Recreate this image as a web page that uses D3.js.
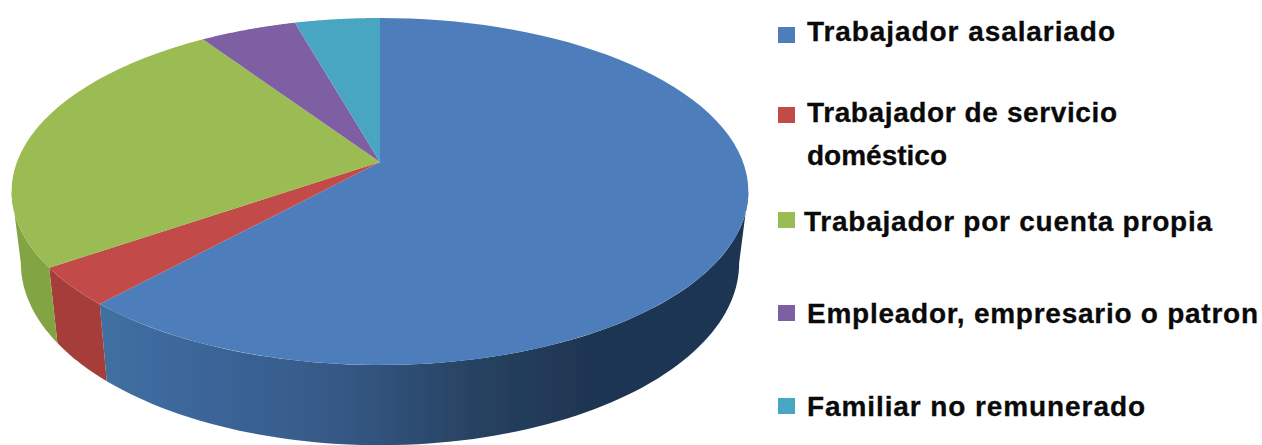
<!DOCTYPE html>
<html><head><meta charset="utf-8">
<script src="https://cdn.jsdelivr.net/npm/d3@7"></script>
<style>html,body{margin:0;padding:0;background:#fff;overflow:hidden}</style>
</head><body>
<svg id="c" width="1262" height="445"></svg>
<script>
const categories = ["Trabajador asalariado","Trabajador de servicio doméstico","Trabajador por cuenta propia","Empleador, empresario o patron","Familiar no remunerado"];
const values = [61.8,3.6,25.2,5.0,4.4];
const colors = ["#4d7ebb","#c24c4a","#9bbb52","#7f5fa3","#4aa6c3"];
const wallColors = ["#3c659a","#a53d3b","#83a443","#6a4f8a","#3d8aa3"];
const legendLines = [["Trabajador asalariado"],["Trabajador de servicio","doméstico"],["Trabajador por cuenta propia"],["Empleador, empresario o patron"],["Familiar no remunerado"]];
const legendBox = [35,115,220,313,406];
const legendBase = [[41],[122,165],[231],[323],[416]];
const legendX = [807,807,804,807,807];
const legendLen = [[308],[310,140],[408],[451],[338]];

const svg = d3.select("#c");
const defs = svg.append("defs");
defs.append("filter").attr("id","soft").attr("x","-2%").attr("y","-2%").attr("width","104%").attr("height","104%")
  .append("feGaussianBlur").attr("stdDeviation",0.7);
const grad = defs.append("linearGradient").attr("id","blueWall").attr("gradientUnits","userSpaceOnUse")
  .attr("x1",100).attr("x2",750).attr("y1",0).attr("y2",0);
[[0,"#41709f"],[0.08,"#3d6a9f"],[0.35,"#365a88"],[0.6,"#26405f"],[0.75,"#1f3552"],[1,"#1f3552"]]
  .forEach(s=>grad.append("stop").attr("offset",s[0]).attr("stop-color",s[1]));

const ax=380, ay=162, A=363, B=168.5, K=0.17;
function topPt(t){const d=1+K*Math.cos(t);return [ax+A*Math.sin(t)/d, ay-B*Math.cos(t)/d];}
function botPt(t){const p=topPt(t);return [ax+0.975*(p[0]-ax), p[1]+70+0.05*(p[1]-ay)];}
const pie = d3.pie().sort(null).value(d=>d)(values);
const line = d3.line();
const samples=(a,b)=>d3.range(0,81).map(i=>a+(b-a)*i/80);
const g = svg.append("g").attr("filter","url(#soft)");
const tangent=Math.acos(-K);
const visA=tangent, visB=2*Math.PI-tangent;
pie.forEach((s,i)=>{
  const a=Math.max(s.startAngle,visA), b=Math.min(s.endAngle,visB);
  if(b<=a) return;
  const ts=samples(a,b);
  const pts=ts.map(topPt).concat(ts.slice().reverse().map(botPt));
  g.append("path").attr("d",line(pts)+"Z")
    .attr("fill",i===0?"url(#blueWall)":wallColors[i]);
});
pie.forEach((s,i)=>{
  const pts=[[ax,ay]].concat(samples(s.startAngle,s.endAngle).map(topPt));
  g.append("path").attr("d",line(pts)+"Z").attr("fill",colors[i]);
});
const lg=svg.append("g");
categories.forEach((c,i)=>{
  lg.append("rect").attr("x",778).attr("y",legendBox[i]-8).attr("width",17).attr("height",16).attr("fill",colors[i]).attr("filter","url(#soft)");
  legendLines[i].forEach((t,j)=>{
    lg.append("text").attr("x",legendX[i]).attr("y",legendBase[i][j]).text(t)
      .attr("font-family","'Liberation Sans',Arial,sans-serif").attr("font-weight","bold")
      .attr("font-size",28).attr("textLength",legendLen[i][j]).attr("lengthAdjust","spacing").attr("fill","#0a0a0a")
      .attr("stroke","#0a0a0a").attr("stroke-width",0.3);
  });
});
</script>
</body></html>
